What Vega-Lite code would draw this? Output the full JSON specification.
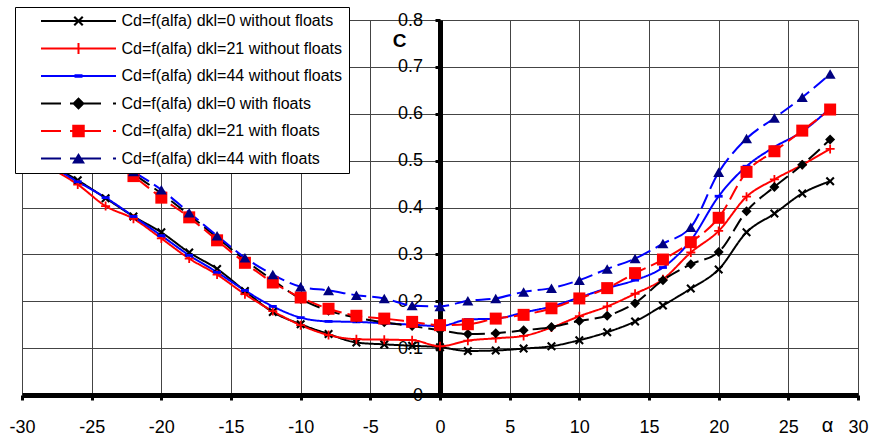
{
  "$schema": "https://vega.github.io/schema/vega-lite/v6.json",
  "width": 836,
  "height": 375,
  "autosize": {"type": "none"},
  "padding": {"left": 22, "top": 20, "right": 14, "bottom": 41},
  "background": "white",
  "config": {"view": {"stroke": null}, "font": "Liberation Sans"},
  "data": {"values": [
    {"series":"Cd=f(alfa) dkl=0 without floats","alpha":-28,"cd":0.492},
    {"series":"Cd=f(alfa) dkl=0 without floats","alpha":-26,"cd":0.458},
    {"series":"Cd=f(alfa) dkl=0 without floats","alpha":-24,"cd":0.420},
    {"series":"Cd=f(alfa) dkl=0 without floats","alpha":-22,"cd":0.381},
    {"series":"Cd=f(alfa) dkl=0 without floats","alpha":-20,"cd":0.347},
    {"series":"Cd=f(alfa) dkl=0 without floats","alpha":-18,"cd":0.304},
    {"series":"Cd=f(alfa) dkl=0 without floats","alpha":-16,"cd":0.269},
    {"series":"Cd=f(alfa) dkl=0 without floats","alpha":-14,"cd":0.222},
    {"series":"Cd=f(alfa) dkl=0 without floats","alpha":-12,"cd":0.177},
    {"series":"Cd=f(alfa) dkl=0 without floats","alpha":-10,"cd":0.151},
    {"series":"Cd=f(alfa) dkl=0 without floats","alpha":-8,"cd":0.130},
    {"series":"Cd=f(alfa) dkl=0 without floats","alpha":-6,"cd":0.112},
    {"series":"Cd=f(alfa) dkl=0 without floats","alpha":-4,"cd":0.108},
    {"series":"Cd=f(alfa) dkl=0 without floats","alpha":-2,"cd":0.105},
    {"series":"Cd=f(alfa) dkl=0 without floats","alpha":0,"cd":0.102},
    {"series":"Cd=f(alfa) dkl=0 without floats","alpha":2,"cd":0.094},
    {"series":"Cd=f(alfa) dkl=0 without floats","alpha":4,"cd":0.095},
    {"series":"Cd=f(alfa) dkl=0 without floats","alpha":6,"cd":0.099},
    {"series":"Cd=f(alfa) dkl=0 without floats","alpha":8,"cd":0.104},
    {"series":"Cd=f(alfa) dkl=0 without floats","alpha":10,"cd":0.117},
    {"series":"Cd=f(alfa) dkl=0 without floats","alpha":12,"cd":0.134},
    {"series":"Cd=f(alfa) dkl=0 without floats","alpha":14,"cd":0.157},
    {"series":"Cd=f(alfa) dkl=0 without floats","alpha":16,"cd":0.191},
    {"series":"Cd=f(alfa) dkl=0 without floats","alpha":18,"cd":0.227},
    {"series":"Cd=f(alfa) dkl=0 without floats","alpha":20,"cd":0.268},
    {"series":"Cd=f(alfa) dkl=0 without floats","alpha":22,"cd":0.347},
    {"series":"Cd=f(alfa) dkl=0 without floats","alpha":24,"cd":0.387},
    {"series":"Cd=f(alfa) dkl=0 without floats","alpha":26,"cd":0.430},
    {"series":"Cd=f(alfa) dkl=0 without floats","alpha":28,"cd":0.456},

    {"series":"Cd=f(alfa) dkl=21 without floats","alpha":-28,"cd":0.485},
    {"series":"Cd=f(alfa) dkl=21 without floats","alpha":-26,"cd":0.449},
    {"series":"Cd=f(alfa) dkl=21 without floats","alpha":-24,"cd":0.403},
    {"series":"Cd=f(alfa) dkl=21 without floats","alpha":-22,"cd":0.376},
    {"series":"Cd=f(alfa) dkl=21 without floats","alpha":-20,"cd":0.334},
    {"series":"Cd=f(alfa) dkl=21 without floats","alpha":-18,"cd":0.291},
    {"series":"Cd=f(alfa) dkl=21 without floats","alpha":-16,"cd":0.257},
    {"series":"Cd=f(alfa) dkl=21 without floats","alpha":-14,"cd":0.215},
    {"series":"Cd=f(alfa) dkl=21 without floats","alpha":-12,"cd":0.179},
    {"series":"Cd=f(alfa) dkl=21 without floats","alpha":-10,"cd":0.149},
    {"series":"Cd=f(alfa) dkl=21 without floats","alpha":-8,"cd":0.128},
    {"series":"Cd=f(alfa) dkl=21 without floats","alpha":-6,"cd":0.119},
    {"series":"Cd=f(alfa) dkl=21 without floats","alpha":-4,"cd":0.118},
    {"series":"Cd=f(alfa) dkl=21 without floats","alpha":-2,"cd":0.117},
    {"series":"Cd=f(alfa) dkl=21 without floats","alpha":0,"cd":0.104},
    {"series":"Cd=f(alfa) dkl=21 without floats","alpha":2,"cd":0.116},
    {"series":"Cd=f(alfa) dkl=21 without floats","alpha":4,"cd":0.121},
    {"series":"Cd=f(alfa) dkl=21 without floats","alpha":6,"cd":0.126},
    {"series":"Cd=f(alfa) dkl=21 without floats","alpha":8,"cd":0.144},
    {"series":"Cd=f(alfa) dkl=21 without floats","alpha":10,"cd":0.168},
    {"series":"Cd=f(alfa) dkl=21 without floats","alpha":12,"cd":0.189},
    {"series":"Cd=f(alfa) dkl=21 without floats","alpha":14,"cd":0.216},
    {"series":"Cd=f(alfa) dkl=21 without floats","alpha":16,"cd":0.247},
    {"series":"Cd=f(alfa) dkl=21 without floats","alpha":18,"cd":0.304},
    {"series":"Cd=f(alfa) dkl=21 without floats","alpha":20,"cd":0.350},
    {"series":"Cd=f(alfa) dkl=21 without floats","alpha":22,"cd":0.423},
    {"series":"Cd=f(alfa) dkl=21 without floats","alpha":24,"cd":0.460},
    {"series":"Cd=f(alfa) dkl=21 without floats","alpha":26,"cd":0.491},
    {"series":"Cd=f(alfa) dkl=21 without floats","alpha":28,"cd":0.525},

    {"series":"Cd=f(alfa) dkl=44 without floats","alpha":-28,"cd":0.490},
    {"series":"Cd=f(alfa) dkl=44 without floats","alpha":-26,"cd":0.455},
    {"series":"Cd=f(alfa) dkl=44 without floats","alpha":-24,"cd":0.421},
    {"series":"Cd=f(alfa) dkl=44 without floats","alpha":-22,"cd":0.381},
    {"series":"Cd=f(alfa) dkl=44 without floats","alpha":-20,"cd":0.340},
    {"series":"Cd=f(alfa) dkl=44 without floats","alpha":-18,"cd":0.298},
    {"series":"Cd=f(alfa) dkl=44 without floats","alpha":-16,"cd":0.262},
    {"series":"Cd=f(alfa) dkl=44 without floats","alpha":-14,"cd":0.223},
    {"series":"Cd=f(alfa) dkl=44 without floats","alpha":-12,"cd":0.189},
    {"series":"Cd=f(alfa) dkl=44 without floats","alpha":-10,"cd":0.165},
    {"series":"Cd=f(alfa) dkl=44 without floats","alpha":-8,"cd":0.157},
    {"series":"Cd=f(alfa) dkl=44 without floats","alpha":-6,"cd":0.156},
    {"series":"Cd=f(alfa) dkl=44 without floats","alpha":-4,"cd":0.153},
    {"series":"Cd=f(alfa) dkl=44 without floats","alpha":-2,"cd":0.150},
    {"series":"Cd=f(alfa) dkl=44 without floats","alpha":0,"cd":0.147},
    {"series":"Cd=f(alfa) dkl=44 without floats","alpha":2,"cd":0.161},
    {"series":"Cd=f(alfa) dkl=44 without floats","alpha":4,"cd":0.163},
    {"series":"Cd=f(alfa) dkl=44 without floats","alpha":6,"cd":0.176},
    {"series":"Cd=f(alfa) dkl=44 without floats","alpha":8,"cd":0.189},
    {"series":"Cd=f(alfa) dkl=44 without floats","alpha":10,"cd":0.208},
    {"series":"Cd=f(alfa) dkl=44 without floats","alpha":12,"cd":0.228},
    {"series":"Cd=f(alfa) dkl=44 without floats","alpha":14,"cd":0.245},
    {"series":"Cd=f(alfa) dkl=44 without floats","alpha":16,"cd":0.272},
    {"series":"Cd=f(alfa) dkl=44 without floats","alpha":18,"cd":0.330},
    {"series":"Cd=f(alfa) dkl=44 without floats","alpha":20,"cd":0.424},
    {"series":"Cd=f(alfa) dkl=44 without floats","alpha":22,"cd":0.488},
    {"series":"Cd=f(alfa) dkl=44 without floats","alpha":24,"cd":0.529},
    {"series":"Cd=f(alfa) dkl=44 without floats","alpha":26,"cd":0.562},
    {"series":"Cd=f(alfa) dkl=44 without floats","alpha":28,"cd":0.612},

    {"series":"Cd=f(alfa) dkl=0 with floats","alpha":-28,"cd":0.590},
    {"series":"Cd=f(alfa) dkl=0 with floats","alpha":-26,"cd":0.552},
    {"series":"Cd=f(alfa) dkl=0 with floats","alpha":-24,"cd":0.515},
    {"series":"Cd=f(alfa) dkl=0 with floats","alpha":-22,"cd":0.472},
    {"series":"Cd=f(alfa) dkl=0 with floats","alpha":-20,"cd":0.430},
    {"series":"Cd=f(alfa) dkl=0 with floats","alpha":-18,"cd":0.384},
    {"series":"Cd=f(alfa) dkl=0 with floats","alpha":-16,"cd":0.336},
    {"series":"Cd=f(alfa) dkl=0 with floats","alpha":-14,"cd":0.288},
    {"series":"Cd=f(alfa) dkl=0 with floats","alpha":-12,"cd":0.245},
    {"series":"Cd=f(alfa) dkl=0 with floats","alpha":-10,"cd":0.205},
    {"series":"Cd=f(alfa) dkl=0 with floats","alpha":-8,"cd":0.180},
    {"series":"Cd=f(alfa) dkl=0 with floats","alpha":-6,"cd":0.165},
    {"series":"Cd=f(alfa) dkl=0 with floats","alpha":-4,"cd":0.155},
    {"series":"Cd=f(alfa) dkl=0 with floats","alpha":-2,"cd":0.147},
    {"series":"Cd=f(alfa) dkl=0 with floats","alpha":0,"cd":0.138},
    {"series":"Cd=f(alfa) dkl=0 with floats","alpha":2,"cd":0.130},
    {"series":"Cd=f(alfa) dkl=0 with floats","alpha":4,"cd":0.132},
    {"series":"Cd=f(alfa) dkl=0 with floats","alpha":6,"cd":0.138},
    {"series":"Cd=f(alfa) dkl=0 with floats","alpha":8,"cd":0.145},
    {"series":"Cd=f(alfa) dkl=0 with floats","alpha":10,"cd":0.158},
    {"series":"Cd=f(alfa) dkl=0 with floats","alpha":12,"cd":0.169},
    {"series":"Cd=f(alfa) dkl=0 with floats","alpha":14,"cd":0.196},
    {"series":"Cd=f(alfa) dkl=0 with floats","alpha":16,"cd":0.245},
    {"series":"Cd=f(alfa) dkl=0 with floats","alpha":18,"cd":0.279},
    {"series":"Cd=f(alfa) dkl=0 with floats","alpha":20,"cd":0.305},
    {"series":"Cd=f(alfa) dkl=0 with floats","alpha":22,"cd":0.392},
    {"series":"Cd=f(alfa) dkl=0 with floats","alpha":24,"cd":0.444},
    {"series":"Cd=f(alfa) dkl=0 with floats","alpha":26,"cd":0.491},
    {"series":"Cd=f(alfa) dkl=0 with floats","alpha":28,"cd":0.545},

    {"series":"Cd=f(alfa) dkl=21 with floats","alpha":-28,"cd":0.585},
    {"series":"Cd=f(alfa) dkl=21 with floats","alpha":-26,"cd":0.548},
    {"series":"Cd=f(alfa) dkl=21 with floats","alpha":-24,"cd":0.510},
    {"series":"Cd=f(alfa) dkl=21 with floats","alpha":-22,"cd":0.467},
    {"series":"Cd=f(alfa) dkl=21 with floats","alpha":-20,"cd":0.421},
    {"series":"Cd=f(alfa) dkl=21 with floats","alpha":-18,"cd":0.379},
    {"series":"Cd=f(alfa) dkl=21 with floats","alpha":-16,"cd":0.330},
    {"series":"Cd=f(alfa) dkl=21 with floats","alpha":-14,"cd":0.282},
    {"series":"Cd=f(alfa) dkl=21 with floats","alpha":-12,"cd":0.240},
    {"series":"Cd=f(alfa) dkl=21 with floats","alpha":-10,"cd":0.208},
    {"series":"Cd=f(alfa) dkl=21 with floats","alpha":-8,"cd":0.184},
    {"series":"Cd=f(alfa) dkl=21 with floats","alpha":-6,"cd":0.169},
    {"series":"Cd=f(alfa) dkl=21 with floats","alpha":-4,"cd":0.163},
    {"series":"Cd=f(alfa) dkl=21 with floats","alpha":-2,"cd":0.156},
    {"series":"Cd=f(alfa) dkl=21 with floats","alpha":0,"cd":0.149},
    {"series":"Cd=f(alfa) dkl=21 with floats","alpha":2,"cd":0.151},
    {"series":"Cd=f(alfa) dkl=21 with floats","alpha":4,"cd":0.163},
    {"series":"Cd=f(alfa) dkl=21 with floats","alpha":6,"cd":0.171},
    {"series":"Cd=f(alfa) dkl=21 with floats","alpha":8,"cd":0.185},
    {"series":"Cd=f(alfa) dkl=21 with floats","alpha":10,"cd":0.206},
    {"series":"Cd=f(alfa) dkl=21 with floats","alpha":12,"cd":0.228},
    {"series":"Cd=f(alfa) dkl=21 with floats","alpha":14,"cd":0.260},
    {"series":"Cd=f(alfa) dkl=21 with floats","alpha":16,"cd":0.289},
    {"series":"Cd=f(alfa) dkl=21 with floats","alpha":18,"cd":0.326},
    {"series":"Cd=f(alfa) dkl=21 with floats","alpha":20,"cd":0.378},
    {"series":"Cd=f(alfa) dkl=21 with floats","alpha":22,"cd":0.476},
    {"series":"Cd=f(alfa) dkl=21 with floats","alpha":24,"cd":0.520},
    {"series":"Cd=f(alfa) dkl=21 with floats","alpha":26,"cd":0.564},
    {"series":"Cd=f(alfa) dkl=21 with floats","alpha":28,"cd":0.609},

    {"series":"Cd=f(alfa) dkl=44 with floats","alpha":-28,"cd":0.600},
    {"series":"Cd=f(alfa) dkl=44 with floats","alpha":-26,"cd":0.560},
    {"series":"Cd=f(alfa) dkl=44 with floats","alpha":-24,"cd":0.520},
    {"series":"Cd=f(alfa) dkl=44 with floats","alpha":-22,"cd":0.477},
    {"series":"Cd=f(alfa) dkl=44 with floats","alpha":-20,"cd":0.438},
    {"series":"Cd=f(alfa) dkl=44 with floats","alpha":-18,"cd":0.389},
    {"series":"Cd=f(alfa) dkl=44 with floats","alpha":-16,"cd":0.340},
    {"series":"Cd=f(alfa) dkl=44 with floats","alpha":-14,"cd":0.293},
    {"series":"Cd=f(alfa) dkl=44 with floats","alpha":-12,"cd":0.257},
    {"series":"Cd=f(alfa) dkl=44 with floats","alpha":-10,"cd":0.231},
    {"series":"Cd=f(alfa) dkl=44 with floats","alpha":-8,"cd":0.223},
    {"series":"Cd=f(alfa) dkl=44 with floats","alpha":-6,"cd":0.213},
    {"series":"Cd=f(alfa) dkl=44 with floats","alpha":-4,"cd":0.206},
    {"series":"Cd=f(alfa) dkl=44 with floats","alpha":-2,"cd":0.191},
    {"series":"Cd=f(alfa) dkl=44 with floats","alpha":0,"cd":0.189},
    {"series":"Cd=f(alfa) dkl=44 with floats","alpha":2,"cd":0.201},
    {"series":"Cd=f(alfa) dkl=44 with floats","alpha":4,"cd":0.206},
    {"series":"Cd=f(alfa) dkl=44 with floats","alpha":6,"cd":0.220},
    {"series":"Cd=f(alfa) dkl=44 with floats","alpha":8,"cd":0.228},
    {"series":"Cd=f(alfa) dkl=44 with floats","alpha":10,"cd":0.245},
    {"series":"Cd=f(alfa) dkl=44 with floats","alpha":12,"cd":0.269},
    {"series":"Cd=f(alfa) dkl=44 with floats","alpha":14,"cd":0.291},
    {"series":"Cd=f(alfa) dkl=44 with floats","alpha":16,"cd":0.323},
    {"series":"Cd=f(alfa) dkl=44 with floats","alpha":18,"cd":0.358},
    {"series":"Cd=f(alfa) dkl=44 with floats","alpha":20,"cd":0.475},
    {"series":"Cd=f(alfa) dkl=44 with floats","alpha":22,"cd":0.547},
    {"series":"Cd=f(alfa) dkl=44 with floats","alpha":24,"cd":0.591},
    {"series":"Cd=f(alfa) dkl=44 with floats","alpha":26,"cd":0.635},
    {"series":"Cd=f(alfa) dkl=44 with floats","alpha":28,"cd":0.685}
  ]},
  "encoding": {
    "x": {
      "field": "alpha", "type": "quantitative",
      "scale": {"domain": [-30, 30], "nice": false, "zero": false},
      "axis": {
        "values": [-30,-25,-20,-15,-10,-5,0,5,10,15,20,25,30],
        "labelExpr": "'' + datum.value",
        "labelFontSize": 18, "labelColor": "black", "labelFont": "Liberation Sans",
        "labelBaseline": "alphabetic", "labelPadding": 32, "labelFlush": false, "labelOverlap": false,
        "tickSize": 5, "tickWidth": 3, "tickColor": "black",
        "domainColor": "black", "domainWidth": 5,
        "grid": true, "gridColor": "#444444", "gridWidth": 1,
        "title": "α", "titleX": 805, "titleY": 36.7, "titleAlign": "center", "titleBaseline": "alphabetic",
        "titleFontSize": 20, "titleFontWeight": "normal", "titleColor": "black", "titleFont": "Liberation Sans"
      }
    },
    "y": {
      "field": "cd", "type": "quantitative",
      "scale": {"domain": [0, 0.8], "nice": false},
      "axis": {
        "offset": -418,
        "values": [0,0.1,0.2,0.3,0.4,0.5,0.6,0.7,0.8],
        "labelExpr": "'' + datum.value",
        "labelFontSize": 18, "labelColor": "black", "labelFont": "Liberation Sans",
        "labelPadding": 12.5, "labelFlush": false, "labelOverlap": false,
        "tickSize": 5, "tickWidth": 3, "tickColor": "black",
        "domainColor": "black", "domainWidth": 5,
        "grid": true, "gridColor": "#444444", "gridWidth": 1,
        "title": "C", "titleAngle": 0, "titleX": -41, "titleY": 20, "titleAlign": "center", "titleBaseline": "middle",
        "titleFontSize": 19, "titleFontWeight": "bold", "titleColor": "black", "titleFont": "Liberation Sans"
      }
    }
  },
  "layer": [
    {
      "mark": {"type": "line", "interpolate": "monotone", "strokeWidth": 2},
      "encoding": {
        "stroke": {
          "field": "series", "type": "nominal",
          "scale": {
            "domain": ["Cd=f(alfa) dkl=0 without floats","Cd=f(alfa) dkl=21 without floats","Cd=f(alfa) dkl=44 without floats","Cd=f(alfa) dkl=0 with floats","Cd=f(alfa) dkl=21 with floats","Cd=f(alfa) dkl=44 with floats"],
            "range": ["#000000","#FF0000","#0000FF","#000000","#FF0000","#0000FF"]
          },
          "legend": {
            "title": null, "orient": "none", "legendX": -7, "legendY": -13, "direction": "vertical",
            "padding": 6, "fillColor": "white", "strokeColor": "black",
            "labelFontSize": 16, "labelFont": "Liberation Sans", "labelColor": "black", "labelLimit": 0,
            "labelExpr": "datum.label + '          '",
            "symbolSize": 100, "symbolOffset": 49.5, "labelOffset": 35, "rowPadding": 11.5,
            "encode": {
              "symbols": {
                "update": {
                  "shape": {"signal": "['M-7.5,-0.2H7.5V0.2H-7.5ZM0,-0.3L0.7,-1L1,-0.7L0.3,0L1,0.7L0.7,1L0,0.3L-0.7,1L-1,0.7L-0.3,0L-1,-0.7L-0.7,-1Z','M-7.5,-0.2H7.5V0.2H-7.5ZM-0.2,-1.1H0.2V1.1H-0.2Z','M-7.5,-0.2H7.5V0.2H-7.5ZM-0.8,-0.35H0.8V0.35H-0.8Z','M-7.5,-0.2H-3.5V0.2H-7.5ZM-1.7,-0.2H4.5V0.2H-1.7ZM6.9,-0.2H7.5V0.2H6.9ZM0,-1.25L1.25,0L0,1.25L-1.25,0Z','M-7.5,-0.2H-3.5V0.2H-7.5ZM-1.7,-0.2H4.5V0.2H-1.7ZM6.9,-0.2H7.5V0.2H6.9ZM-1.25,-1.25H1.25V1.25H-1.25Z','M-7.5,-0.2H-3.5V0.2H-7.5ZM-1.7,-0.2H4.5V0.2H-1.7ZM6.9,-0.2H7.5V0.2H6.9ZM0,-1.1L1.3,1H-1.3Z'][indexof(domain('stroke'), datum.value)]"},
                  "fill": {"signal": "scale('fill', datum.value)"},
                  "stroke": {"value": "transparent"},
                  "strokeWidth": {"value": 0},
                  "size": {"value": 100},
                  "opacity": {"value": 1}
                }
              }
            }
          }
        },
        "strokeDash": {
          "field": "series", "type": "nominal",
          "scale": {
            "domain": ["Cd=f(alfa) dkl=0 without floats","Cd=f(alfa) dkl=21 without floats","Cd=f(alfa) dkl=44 without floats","Cd=f(alfa) dkl=0 with floats","Cd=f(alfa) dkl=21 with floats","Cd=f(alfa) dkl=44 with floats"],
            "range": [[1,0],[1,0],[1,0],[15,6],[15,6],[15,6]]
          },
          "legend": null
        }
      }
    },
    {
      "transform": [{"filter": "datum.series === 'Cd=f(alfa) dkl=0 without floats'"}],
      "mark": {"type": "point", "filled": true, "opacity": 1, "strokeWidth": 0, "size": 100, "shape": "M0,-0.3L0.6,-0.9L0.9,-0.6L0.3,0L0.9,0.6L0.6,0.9L0,0.3L-0.6,0.9L-0.9,0.6L-0.3,0L-0.9,-0.6L-0.6,-0.9Z"},
      "encoding": {
        "fill": {"field": "series", "type": "nominal", "scale": {"domain": ["Cd=f(alfa) dkl=0 without floats","Cd=f(alfa) dkl=21 without floats","Cd=f(alfa) dkl=44 without floats","Cd=f(alfa) dkl=0 with floats","Cd=f(alfa) dkl=21 with floats","Cd=f(alfa) dkl=44 with floats"], "range": ["#000000","#FF0000","#0000FF","#000000","#FF0000","#000080"]}, "legend": null}
      }
    },
    {
      "transform": [{"filter": "datum.series === 'Cd=f(alfa) dkl=21 without floats'"}],
      "mark": {"type": "point", "filled": true, "opacity": 1, "strokeWidth": 0, "size": 100, "shape": "M-0.18,-0.9H0.18V-0.18H0.9V0.18H0.18V0.9H-0.18V0.18H-0.9V-0.18H-0.18Z"},
      "encoding": {
        "fill": {"field": "series", "type": "nominal", "scale": {"domain": ["Cd=f(alfa) dkl=0 without floats","Cd=f(alfa) dkl=21 without floats","Cd=f(alfa) dkl=44 without floats","Cd=f(alfa) dkl=0 with floats","Cd=f(alfa) dkl=21 with floats","Cd=f(alfa) dkl=44 with floats"], "range": ["#000000","#FF0000","#0000FF","#000000","#FF0000","#000080"]}, "legend": null}
      }
    },
    {
      "transform": [{"filter": "datum.series === 'Cd=f(alfa) dkl=44 without floats'"}],
      "mark": {"type": "point", "filled": true, "opacity": 1, "strokeWidth": 0, "size": 100, "shape": "M-0.8,-0.28H0.8V0.28H-0.8Z"},
      "encoding": {
        "fill": {"field": "series", "type": "nominal", "scale": {"domain": ["Cd=f(alfa) dkl=0 without floats","Cd=f(alfa) dkl=21 without floats","Cd=f(alfa) dkl=44 without floats","Cd=f(alfa) dkl=0 with floats","Cd=f(alfa) dkl=21 with floats","Cd=f(alfa) dkl=44 with floats"], "range": ["#000000","#FF0000","#0000FF","#000000","#FF0000","#000080"]}, "legend": null}
      }
    },
    {
      "transform": [{"filter": "datum.series === 'Cd=f(alfa) dkl=0 with floats'"}],
      "mark": {"type": "point", "filled": true, "opacity": 1, "strokeWidth": 0, "size": 100, "shape": "M0,-1L1,0L0,1L-1,0Z"},
      "encoding": {
        "fill": {"field": "series", "type": "nominal", "scale": {"domain": ["Cd=f(alfa) dkl=0 without floats","Cd=f(alfa) dkl=21 without floats","Cd=f(alfa) dkl=44 without floats","Cd=f(alfa) dkl=0 with floats","Cd=f(alfa) dkl=21 with floats","Cd=f(alfa) dkl=44 with floats"], "range": ["#000000","#FF0000","#0000FF","#000000","#FF0000","#000080"]}, "legend": null}
      }
    },
    {
      "transform": [{"filter": "datum.series === 'Cd=f(alfa) dkl=21 with floats'"}],
      "mark": {"type": "point", "filled": true, "opacity": 1, "strokeWidth": 0, "size": 100, "shape": "M-1.2,-1.2H1.2V1.2H-1.2Z"},
      "encoding": {
        "fill": {"field": "series", "type": "nominal", "scale": {"domain": ["Cd=f(alfa) dkl=0 without floats","Cd=f(alfa) dkl=21 without floats","Cd=f(alfa) dkl=44 without floats","Cd=f(alfa) dkl=0 with floats","Cd=f(alfa) dkl=21 with floats","Cd=f(alfa) dkl=44 with floats"], "range": ["#000000","#FF0000","#0000FF","#000000","#FF0000","#000080"]}, "legend": null}
      }
    },
    {
      "transform": [{"filter": "datum.series === 'Cd=f(alfa) dkl=44 with floats'"}],
      "mark": {"type": "point", "filled": true, "opacity": 1, "strokeWidth": 0, "size": 100, "shape": "M0,-0.95L1.1,0.95H-1.1Z"},
      "encoding": {
        "fill": {"field": "series", "type": "nominal", "scale": {"domain": ["Cd=f(alfa) dkl=0 without floats","Cd=f(alfa) dkl=21 without floats","Cd=f(alfa) dkl=44 without floats","Cd=f(alfa) dkl=0 with floats","Cd=f(alfa) dkl=21 with floats","Cd=f(alfa) dkl=44 with floats"], "range": ["#000000","#FF0000","#0000FF","#000000","#FF0000","#000080"]}, "legend": null}
      }
    },
    {
      "data": {"values": [{"sub": "D"}]},
      "mark": {"type": "text", "fontSize": 12, "fontWeight": "bold", "font": "Liberation Sans", "color": "black", "align": "center", "baseline": "middle"},
      "encoding": {
        "x": {"datum": -2.0, "type": "quantitative"},
        "y": {"datum": 0.744, "type": "quantitative"},
        "text": {"field": "sub", "type": "nominal"}
      }
    }
  ]
}
